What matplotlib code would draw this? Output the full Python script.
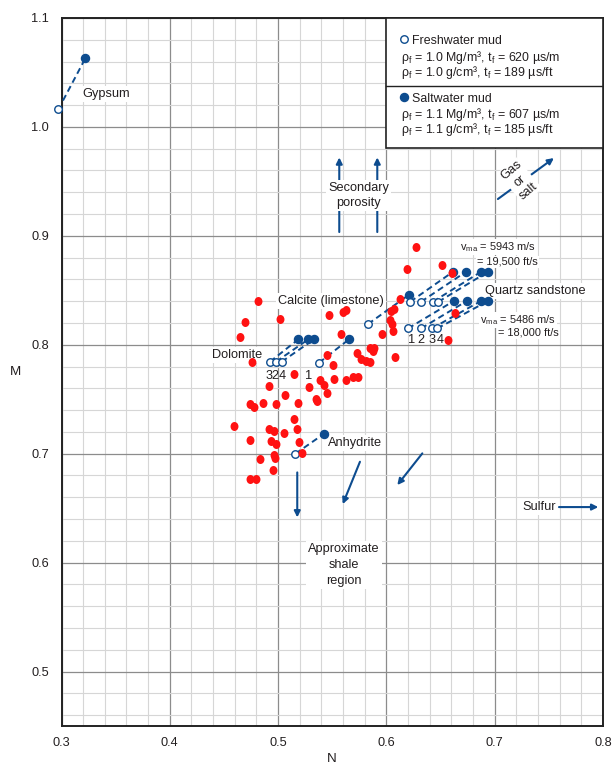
import numpy as np
import matplotlib.pyplot as plt
from matplotlib.path import Path
from matplotlib.transforms import Affine2D
from matplotlib.patches import Rectangle

plt.rcParams['font.family'] = ['Liberation Sans', 'DejaVu Sans']
plt.rcParams['mathtext.default'] = 'regular'

BLUE = '#0d4c8f'
RED = '#ff1212'
INK = '#231f20'

# core/log samples (red)
RED_N = [0.627, 0.619, 0.651, 0.661, 0.481, 0.502, 0.547, 0.560, 0.563, 0.469, 0.465,
         0.613, 0.607, 0.604, 0.603, 0.605, 0.606, 0.596, 0.585, 0.589, 0.588, 0.558,
         0.545, 0.551, 0.573, 0.577, 0.581, 0.585, 0.608, 0.476, 0.515, 0.539, 0.542,
         0.545, 0.552, 0.563, 0.569, 0.574, 0.529, 0.492, 0.506, 0.535, 0.536, 0.518,
         0.486, 0.498, 0.474, 0.478, 0.515, 0.459, 0.492, 0.496, 0.505, 0.517, 0.474,
         0.493, 0.498, 0.519, 0.522, 0.496, 0.497, 0.483, 0.495, 0.474, 0.480, 0.663,
         0.657]
RED_M = [0.890, 0.870, 0.873, 0.866, 0.840, 0.824, 0.827, 0.830, 0.832, 0.821, 0.807,
         0.842, 0.833, 0.831, 0.823, 0.819, 0.813, 0.810, 0.797, 0.797, 0.794, 0.810,
         0.791, 0.781, 0.792, 0.787, 0.785, 0.784, 0.789, 0.784, 0.773, 0.768, 0.763,
         0.756, 0.769, 0.768, 0.770, 0.770, 0.761, 0.762, 0.754, 0.750, 0.748, 0.747,
         0.747, 0.746, 0.746, 0.743, 0.732, 0.725, 0.723, 0.721, 0.719, 0.723, 0.713,
         0.712, 0.709, 0.711, 0.701, 0.699, 0.696, 0.695, 0.685, 0.677, 0.677, 0.829,
         0.804]

# single minerals: freshwater mud point -> saltwater mud point
GYP_FRESH = (0.297, 1.016)
GYP_SALT = (0.322, 1.063)
LIME_FRESH = (0.583, 0.819)
LIME_SALT = (0.621, 0.846)
ANHY_FRESH = (0.516, 0.700)
ANHY_SALT = (0.542, 0.718)

# dolomite, numbered by porosity range
DOLO_FRESH_N = [0.4925, 0.4981, 0.5033, 0.5378]
DOLO_FRESH_M = [0.7844, 0.7844, 0.7844, 0.7835]
DOLO_SALT_N = [0.5187, 0.5279, 0.5332, 0.5655]
DOLO_SALT_M = [0.805, 0.805, 0.805, 0.805]

# quartz sandstone, two matrix velocities, numbered 1-4
QTZ_LABELS = ['1', '2', '3', '4']
QTZ_HI_FRESH_N = [0.622, 0.632, 0.643, 0.648]
QTZ_HI_FRESH_M = [0.8395] * 4
QTZ_HI_SALT_N = [0.6615, 0.6735, 0.6874, 0.6938]
QTZ_HI_SALT_M = [0.867] * 4
QTZ_LO_FRESH_N = [0.620, 0.632, 0.642, 0.647]
QTZ_LO_FRESH_M = [0.815] * 4
QTZ_LO_SALT_N = [0.662, 0.674, 0.687, 0.6935]
QTZ_LO_SALT_M = [0.840] * 4

FS = 9.2

fig = plt.figure(figsize=(6.14, 7.69), dpi=100)
ax = fig.add_axes([0.1002, 0.0559, 0.8818, 0.9207])
ax.set_xlim(0.3, 0.8)
ax.set_ylim(0.45, 1.1)
ax.set_xticks(np.arange(0.3, 0.81, 0.1))
ax.set_yticks(np.arange(0.5, 1.11, 0.1))
ax.set_xticks(np.arange(0.3, 0.801, 0.02), minor=True)
ax.set_yticks(np.arange(0.46, 1.1, 0.02), minor=True)
ax.xaxis.set_major_formatter(plt.FuncFormatter(lambda v, p: f'{v:.1f}'))
ax.yaxis.set_major_formatter(plt.FuncFormatter(lambda v, p: f'{v:.1f}'))
ax.tick_params(which='both', length=0, labelsize=FS, colors=INK)
ax.tick_params(axis='x', pad=8)
ax.tick_params(axis='y', pad=9)
ax.grid(which='major', color='#8c8c8c', lw=0.9)
ax.grid(which='minor', color='#d6d6d6', lw=0.8)
ax.set_axisbelow(True)
for s in ax.spines.values():
    s.set_color('#222222')
    s.set_linewidth(1.4)
ax.set_xlabel('N', fontsize=FS + 0.5, color=INK, labelpad=3)
ax.set_ylabel('M', fontsize=FS + 0.5, color=INK, rotation=0, labelpad=11, va='center')

# slightly tall ellipse for the sample dots
dot = Path.unit_circle().transformed(Affine2D().scale(0.88, 1.0))
ax.scatter(RED_N, RED_M, s=42, marker=dot, color=RED, lw=0, zorder=6)


def mud_pairs(fn, fm, sn, sm):
    for a, b, c, d in zip(fn, fm, sn, sm):
        ax.plot([a, c], [b, d], ls=(0, (3.2, 2.0)), color=BLUE, lw=1.4, zorder=4)
    ax.plot(fn, fm, 'o', ms=5.4, mfc='white', mec=BLUE, mew=1.0, zorder=5, clip_on=False)
    ax.plot(sn, sm, 'o', ms=5.8, color=BLUE, mec=BLUE, zorder=5)


mud_pairs([GYP_FRESH[0]], [GYP_FRESH[1]], [GYP_SALT[0]], [GYP_SALT[1]])
mud_pairs([LIME_FRESH[0]], [LIME_FRESH[1]], [LIME_SALT[0]], [LIME_SALT[1]])
mud_pairs([ANHY_FRESH[0]], [ANHY_FRESH[1]], [ANHY_SALT[0]], [ANHY_SALT[1]])
mud_pairs(DOLO_FRESH_N, DOLO_FRESH_M, DOLO_SALT_N, DOLO_SALT_M)
mud_pairs(QTZ_HI_FRESH_N, QTZ_HI_FRESH_M, QTZ_HI_SALT_N, QTZ_HI_SALT_M)
mud_pairs(QTZ_LO_FRESH_N, QTZ_LO_FRESH_M, QTZ_LO_SALT_N, QTZ_LO_SALT_M)

# dolomite porosity-range numbers (first three share one label)
ax.text(0.4978, 0.7713, '324', fontsize=FS, color=INK, ha='center', va='center', zorder=7)
ax.text(0.5285, 0.7713, '1', fontsize=FS, color=INK, ha='center', va='center', zorder=7)
for lab, n in zip(QTZ_LABELS, [0.6234, 0.6320, 0.6421, 0.6500]):
    ax.text(n, 0.8043, lab, fontsize=FS, color=INK, ha='center', va='center', zorder=7)

box = dict(facecolor='white', edgecolor='none', pad=1.5)
tk = dict(fontsize=FS, color=INK, zorder=3, bbox=box)
ax.text(0.3196, 1.0302, 'Gypsum', ha='left', va='center', **tk)
ax.text(0.4851, 0.7905, 'Dolomite', ha='right', va='center', **tk)
ax.text(0.5492, 0.8401, 'Calcite (limestone)', ha='center', va='center', **tk)
ax.text(0.6911, 0.8493, 'Quartz sandstone', ha='left', va='center', **tk)
ax.text(0.5458, 0.7095, 'Anhydrite', ha='left', va='center', **tk)
ax.text(0.5609, 0.5977, 'Approximate\nshale\nregion', ha='center', va='center',
        linespacing=1.45, **tk)
ax.text(0.5744, 0.937, 'Secondary\nporosity', ha='center', va='center', linespacing=1.4,
        fontsize=FS, color=INK, zorder=5, bbox=box)
ax.text(0.7409, 0.651, 'Sulfur', ha='center', va='center', **tk)
ax.text(0.7233, 0.9506, 'Gas\nor\nsalt', ha='center', va='center', rotation=40,
        rotation_mode='anchor', linespacing=1.2, fontsize=FS, color=INK, zorder=5,
        bbox=dict(facecolor='white', edgecolor='none', pad=0.5))

sk = dict(fontsize=FS - 1.3, color=INK, zorder=3,
          bbox=dict(facecolor='white', edgecolor='none', pad=0.8))
ax.text(0.668, 0.8894, r'v$_{ma}$ = 5943 m/s', ha='left', va='center', **sk)
ax.text(0.6837, 0.8762, '= 19,500 ft/s', ha='left', va='center', **sk)
ax.text(0.6865, 0.8227, r'v$_{ma}$ = 5486 m/s', ha='left', va='center', **sk)
ax.text(0.7031, 0.8110, '= 18,000 ft/s', ha='left', va='center', **sk)

arrow = dict(arrowstyle='-|>', color=BLUE, lw=1.5, mutation_scale=9, shrinkA=0, shrinkB=0)
for n in (0.5565, 0.5916):
    ax.annotate('', xy=(n, 0.972), xytext=(n, 0.9035), arrowprops=arrow, zorder=4)
ax.annotate('', xy=(0.7547, 0.9714), xytext=(0.703, 0.9338), arrowprops=arrow, zorder=4)
ax.annotate('', xy=(0.7957, 0.651), xytext=(0.7594, 0.651), arrowprops=arrow, zorder=4)
ax.annotate('', xy=(0.5177, 0.6415), xytext=(0.5177, 0.6828), arrowprops=arrow, zorder=4)
ax.annotate('', xy=(0.5597, 0.6537), xytext=(0.5756, 0.6926), arrowprops=arrow, zorder=4)
ax.annotate('', xy=(0.6101, 0.6712), xytext=(0.6332, 0.7003), arrowprops=arrow, zorder=4)

# mud key in the upper right corner
ax.add_patch(Rectangle((0.6, 0.9806), 0.2, 0.1194, facecolor='white', edgecolor='#222222',
                       lw=1.2, zorder=6, clip_on=False))
ax.plot([0.6, 0.8], [1.0376, 1.0376], color='#222222', lw=1.0, zorder=7)
ax.plot([0.6162], [1.0804], 'o', ms=5.4, mfc='white', mec=BLUE, mew=1.0, zorder=8)
ax.plot([0.6162], [1.0272], 'o', ms=5.8, color=BLUE, zorder=8)
lk = dict(fontsize=8.9, color=INK, ha='left', va='baseline', zorder=8)
ax.text(0.6239, 1.0763, 'Freshwater mud', **lk)
ax.text(0.6132, 1.0606, r'ρ$_f$ = 1.0 Mg/m³, t$_f$ = 620 µs/m', **lk)
ax.text(0.6132, 1.0472, r'ρ$_f$ = 1.0 g/cm³, t$_f$ = 189 µs/ft', **lk)
ax.text(0.6239, 1.0231, 'Saltwater mud', **lk)
ax.text(0.6132, 1.0086, r'ρ$_f$ = 1.1 Mg/m³, t$_f$ = 607 µs/m', **lk)
ax.text(0.6132, 0.9946, r'ρ$_f$ = 1.1 g/cm³, t$_f$ = 185 µs/ft', **lk)

fig.savefig('out.png', dpi=100)
